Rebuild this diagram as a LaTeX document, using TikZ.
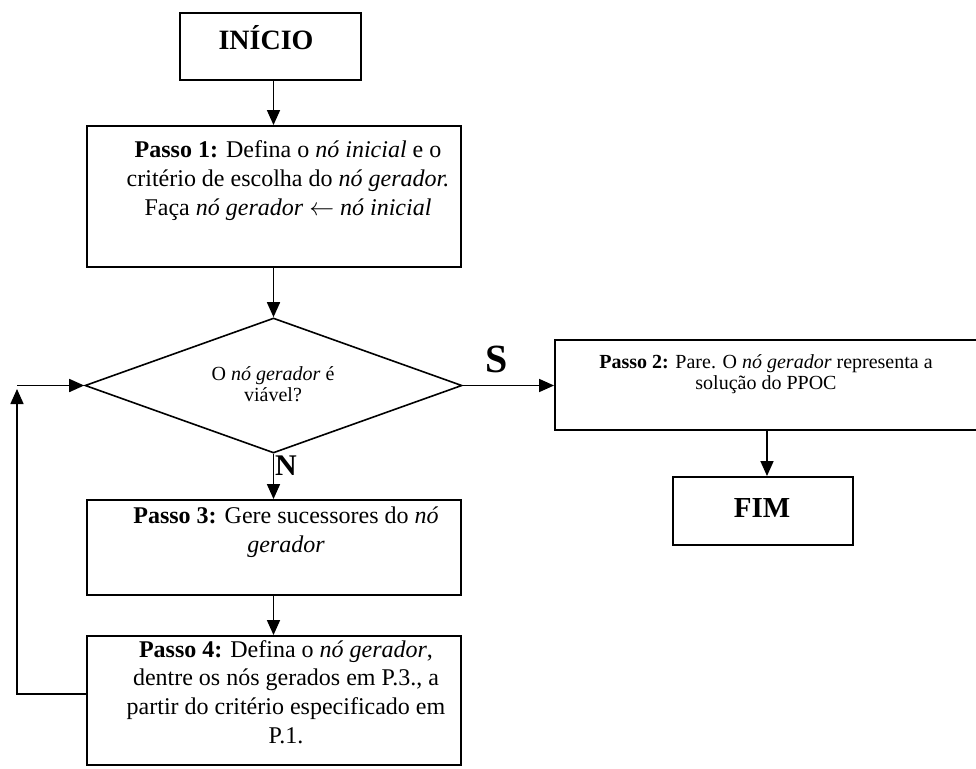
\documentclass[tikz,border=0pt]{standalone}
\usepackage{fontspec}
\setmainfont{Liberation Serif}
\usetikzlibrary{arrows.meta,shapes.geometric}
\begin{document}
\begin{tikzpicture}[x=1pt,y=-1pt,
  box/.style={draw, rectangle, line width=1.9pt, inner sep=0pt},
  arr/.style={line width=1.6pt, -{Triangle[length=15pt,width=13pt]}},
  txt/.style={inner sep=0pt, anchor=base, font=\fontsize{24}{29}\selectfont},
  stxt/.style={inner sep=0pt, anchor=base, font=\fontsize{20}{21}\selectfont},
  big/.style={inner sep=0pt, anchor=base, font=\bfseries\fontsize{29}{29}\selectfont}]
\useasboundingbox (0,0) rectangle (976,768);

% shapes
\node[box, minimum width=181pt, minimum height=67pt] (inicio) at (270.5,46.5) {};
\node[box, minimum width=374pt, minimum height=141pt] (p1) at (274,196.5) {};
\node[draw, diamond, line width=1.6pt, inner sep=0pt, aspect=2.79,
      minimum width=377pt, minimum height=135pt] (dia) at (273.5,385.5) {};
\node[box, minimum width=424pt, minimum height=90pt] (p2) at (767,385) {};
\node[box, minimum width=180pt, minimum height=68pt] (fim) at (763,511) {};
\node[box, minimum width=374pt, minimum height=95pt] (p3) at (274,547.5) {};
\node[box, minimum width=374pt, minimum height=129pt] (p4) at (274,700.5) {};

% texts
\node[big, font=\bfseries\fontsize{28}{28}\selectfont] (tinicio) at (266,50) {INÍCIO};
\node[txt] (tp1) at (288,157) {\parbox[t]{380pt}{\centering
  \textbf{Passo 1:} Defina o \textit{nó inicial} e o\\
  critério de escolha do \textit{nó gerador.}\\
  Faça \textit{nó gerador} $\leftarrow$ \textit{nó inicial}}};
\node[stxt] (tdia) at (273,380) {\parbox[t]{200pt}{\centering
  O \textit{nó gerador} é\\ viável?}};
\node[stxt] (tp2) at (766,368) {\parbox[t]{420pt}{\centering
  \textbf{Passo 2:} Pare. O \textit{nó gerador} representa a\\
  solução do PPOC}};
\node[big] (tfim) at (762,517) {FIM};
\node[txt] (tp3) at (286,523) {\parbox[t]{380pt}{\centering
  \textbf{Passo 3:} Gere sucessores do \textit{nó}\\ \textit{gerador}}};
\node[txt, font=\fontsize{24}{28.7}\selectfont] (tp4) at (286,657) {\parbox[t]{380pt}{\centering
  \textbf{Passo 4:} Defina o \textit{nó gerador},\\
  dentre os nós gerados em P.3., a\\
  partir do critério especificado em\\
  P.1.}};

% labels
\node[inner sep=0pt, anchor=base, font=\bfseries\fontsize{40}{40}\selectfont] (ls) at (497,372) {S};
\node[inner sep=0pt, anchor=base, font=\bfseries\fontsize{30}{30}\selectfont] (ln) at (286,475) {N};

% connectors
\draw[arr] (inicio.south -| dia.north) -- (p1.north -| dia.north);
\draw[arr] (p1.south -| dia.north) -- (dia.north);
\draw[arr] (dia.east) -- (dia.east -| p2.west);
\draw[arr] (p2.south) -- (p2.south |- fim.north);
\draw[arr] (dia.south) -- (p3.north -| dia.south);
\draw[arr] (p3.south -| dia.south) -- (p4.north -| dia.south);

\coordinate (lb) at (17,694);
\coordinate (lt) at (17,385.5);
\coordinate (ltip) at (17,389);
\draw[arr] (p4.west |- lb) -- (lb) -- (ltip);
\draw[arr] (lt) -- (dia.west);
\end{tikzpicture}
\end{document}
